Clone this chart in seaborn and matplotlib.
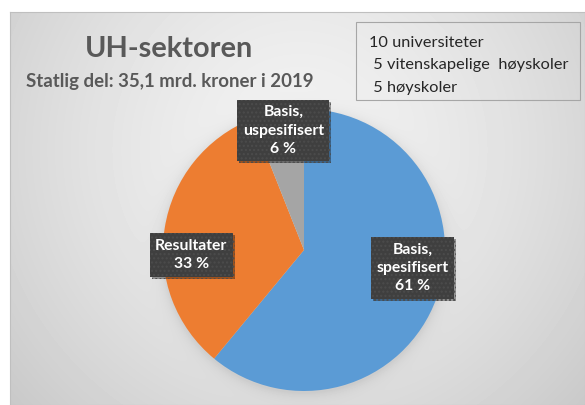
import numpy as np
import matplotlib.pyplot as plt
import matplotlib.patheffects as pe
import seaborn as sns
from matplotlib.patches import Rectangle

categories = ["Basis,\nspesifisert", "Resultater", "Basis,\nuspesifisert"]
shares = [61, 33, 6]
colors = ["#5B9BD5", "#ED7D31", "#A5A5A5"]
# label placement: distance from centre and nudge (deg) from the wedge middle
label_dist = [0.78, 0.80, 0.86]
label_turn = [10.5, 11.5, -1]

title = "UH-sektoren"
subtitle = "Statlig del: 35,1 mrd. kroner i 2019"
box_lines = ["10 universiteter", " 5 vitenskapelige  høyskoler", " 5 høyskoler"]

sns.set_theme(style="white")
plt.rcParams["font.family"] = ["Lato", "DejaVu Sans"]

W, H = 585, 405
fig = plt.figure(figsize=(W / 100, H / 100), dpi=100)
fig.patch.set_facecolor("white")

# pie geometry in pixels
cx, cy, r = 304, 250, 141

# grey gradient panel behind everything, with a soft pie shadow
bg = fig.add_axes([10 / W, 0, 1 - 10 / W, 1 - 12 / H])
yy, xx = np.mgrid[12:H, 10:W] + 0.5
d = np.hypot(xx - 300, yy - 150)
img = 0.95 - 0.16 * (d / 380) ** 1.5
dp = np.hypot(xx - cx, yy - cy - 2)
img = img - 0.07 * np.exp(-np.clip(dp - r, 0, None) / 6)
bg.imshow(img, cmap="gray", vmin=0, vmax=1, extent=[10, W, H, 12], aspect="auto")
bg.set_xlim(10, W)
bg.set_ylim(H, 12)
bg.set_xticks([])
bg.set_yticks([])
for s in bg.spines.values():
    s.set_color("#bfbfbf")
    s.set_linewidth(0.8)

ax = fig.add_axes([(cx - r) / W, (H - cy - r) / H, 2 * r / W, 2 * r / H])
wedges, _ = ax.pie(shares, colors=colors, startangle=90, counterclock=False,
                   wedgeprops=dict(linewidth=0))
ax.set_xlim(-1, 1)
ax.set_ylim(-1, 1)
ax.axis("off")

for w, lab, val, dist, turn in zip(wedges, categories, shares, label_dist, label_turn):
    ang = np.deg2rad((w.theta1 + w.theta2) / 2 + turn)
    t = ax.text(dist * np.cos(ang), dist * np.sin(ang), f"{lab}\n{val} %",
                ha="center", va="center", color="white", fontsize=11.3,
                fontweight="bold", linespacing=1.4,
                bbox=dict(boxstyle="square,pad=0.35", facecolor="#3f3f3f",
                          edgecolor="#4c4c4c", hatch="....", linewidth=0))
    t.get_bbox_patch().set_path_effects(
        [pe.SimplePatchShadow(offset=(1.5, -1.5), shadow_rgbFace="black", alpha=0.35),
         pe.Normal()])

fig.text(169 / W, 1 - 57 / H, title, ha="center", va="baseline",
         fontsize=20.8, fontweight="bold", color="#595959")
fig.text(170 / W, 1 - 87 / H, subtitle, ha="center", va="baseline",
         fontsize=13.4, fontweight="bold", color="#595959")

fig.patches.append(Rectangle((356 / W, 1 - 100 / H), 224 / W, 78 / H,
                             transform=fig.transFigure, facecolor="none",
                             edgecolor="#a6a6a6", linewidth=0.8))
for i, line in enumerate(box_lines):
    fig.text(369 / W, 1 - (47 + 22.5 * i) / H, line, ha="left", va="baseline",
             fontsize=11.8, color="#262626")

fig.savefig("out.png", dpi=100)
